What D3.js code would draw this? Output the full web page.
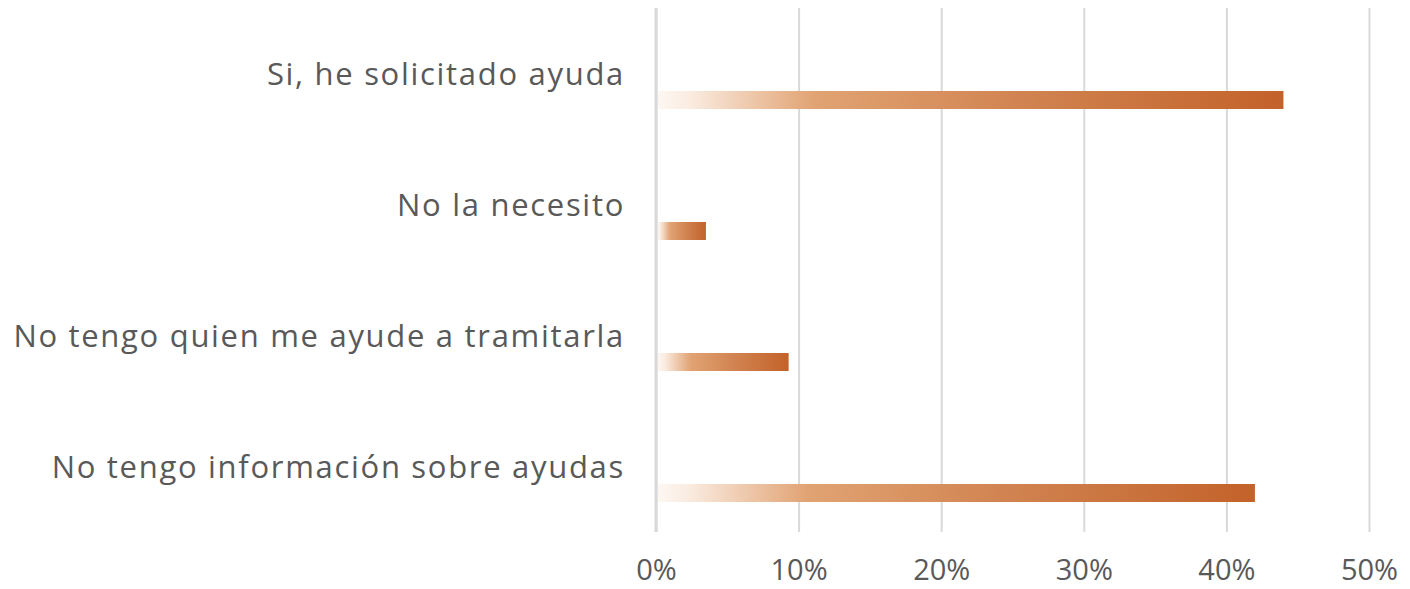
<!DOCTYPE html>
<html><head><meta charset="utf-8">
<script src="https://cdn.jsdelivr.net/npm/d3@7"></script>
<style>body{margin:0;background:#fff}svg{display:block}</style>
</head><body>
<svg id="c" width="1410" height="589"></svg>
<script>
const categories = ["Si, he solicitado ayuda","No la necesito","No tengo quien me ayude a tramitarla","No tengo información sobre ayudas"];
const values = [0.44, 0.035, 0.093, 0.42];
const ticks = [0, 0.1, 0.2, 0.3, 0.4, 0.5];
const series = ["empty","value"];

const svg = d3.select("#c");
const x = d3.scaleLinear().domain([0,0.5]).range([656,1369]);
const y0 = d3.scaleBand().domain(categories).range([8,532]);
const y1 = d3.scaleBand().domain(series).range([0,y0.bandwidth()]).paddingInner(0.66).paddingOuter(0.566);

const defs = svg.append("defs");
const g = defs.append("linearGradient").attr("id","grad").attr("x1","0").attr("x2","1").attr("y1","0").attr("y2","0");
[[0,"#fdf7f2"],[0.05,"#faece1"],[0.25,"#e1a373"],[0.6,"#d0824f"],[1,"#c3622a"]].forEach(([o,c])=>g.append("stop").attr("offset",o).attr("stop-color",c));

// grid
const xAxis = d3.axisBottom(x).tickValues(ticks).tickFormat(d3.format(".0%")).tickSize(-(532-8)).tickPadding(0);
const ax = svg.append("g").attr("transform","translate(0,532)").call(xAxis);
ax.select(".domain").remove();
ax.selectAll(".tick line").attr("stroke","#d9d9d9").attr("stroke-width",2);
ax.selectAll(".tick text").attr("fill","#595959").attr("font-family","Open Sans, sans-serif").attr("font-size",29)
  .attr("dy",0).attr("y",48);

// bars
svg.append("g").selectAll("rect").data(categories).join("rect")
  .attr("x", x(0)+2)
  .attr("y", (d)=>y0(d)+y1("value"))
  .attr("height", y1.bandwidth())
  .attr("width", (d,i)=>x(values[i])-x(0)-2)
  .attr("fill","url(#grad)");

// zero axis line
svg.append("line").attr("x1",x(0)).attr("x2",x(0)).attr("y1",8).attr("y2",532).attr("stroke","#d9d9d9").attr("stroke-width",3);

// category labels
svg.append("g").selectAll("text").data(categories).join("text")
  .attr("x",625).attr("y",d=>y0(d)+y0.bandwidth()/2)
  .attr("dy","0.36em").attr("text-anchor","end")
  .attr("fill","#595959").attr("font-family","Open Sans, sans-serif").attr("font-size",31)
  .attr("letter-spacing","1.7px")
  .text(d=>d);
</script>
</body></html>
